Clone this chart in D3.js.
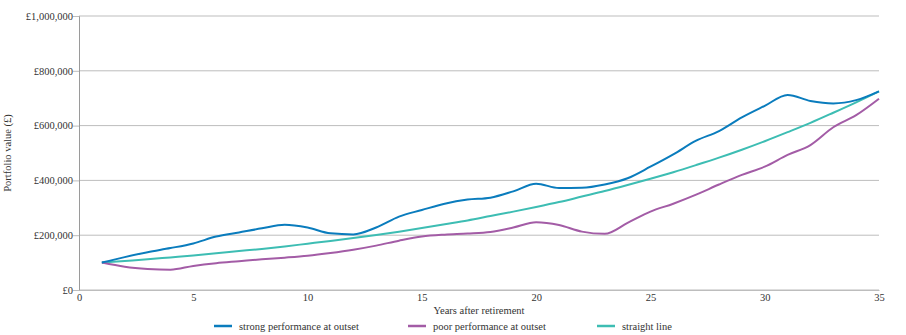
<!DOCTYPE html>
<html>
<head>
<meta charset="utf-8">
<script src="https://cdn.jsdelivr.net/npm/d3@7"></script>
<style>
  body { margin: 0; background: #fff; }
  svg text { font-family: "Liberation Serif", "DejaVu Serif", serif; fill: #333; }
</style>
</head>
<body>
<div id="chart"></div>
<script>
// years after retirement
const years = d3.range(1, 36);

// portfolio value, £ thousands
const strong = [100, 120, 138, 153, 170, 195, 210, 225, 238, 228,
                207, 203, 228, 268, 292, 315, 330, 337, 360, 388,
                372, 373, 385, 408, 450, 495, 545, 580, 630, 672,
                712, 690, 681, 693, 725];
const poor = [100, 85, 77, 74, 88, 98, 105, 112, 118, 125,
              135, 147, 162, 180, 195, 202, 206, 212, 228, 247,
              237, 213, 205, 245, 286, 315, 348, 385, 420, 450,
              493, 529, 594, 638, 698];
const straight = [100, 106, 112, 119, 126, 134, 142, 150, 159, 169,
                  179, 190, 201, 213, 226, 240, 254, 270, 286, 303,
                  321, 341, 361, 383, 406, 430, 456, 483, 512, 543,
                  576, 610, 647, 685, 725];

const xTicks = [0, 5, 10, 15, 20, 25, 30, 35];
const yTicks = [0, 200000, 400000, 600000, 800000, 1000000];

const series = [
  {name: 'strong performance at outset', values: strong, color: '#0a7cbd'},
  {name: 'poor performance at outset', values: poor, color: '#a35ca6'},
  {name: 'straight line', values: straight, color: '#3dbdb3'}
];

const width = 906, height = 335;
const margin = {top: 16, right: 27, bottom: 45, left: 79};

const svg = d3.select('#chart').append('svg')
    .attr('width', width)
    .attr('height', height);

const x = d3.scaleLinear().domain([0, 35]).range([margin.left, width - margin.right]);
const y = d3.scaleLinear().domain([0, 1000000]).range([height - margin.bottom, margin.top]);

// gridlines
svg.append('g')
    .selectAll('line')
    .data(yTicks)
    .enter().append('line')
    .attr('x1', x(0))
    .attr('x2', x(35))
    .attr('y1', d => y(d))
    .attr('y2', d => y(d))
    .attr('stroke', '#bdbdbd')
    .attr('stroke-width', 1);

// y axis
const yAxis = svg.append('g')
    .attr('transform', `translate(${x(0)},0)`)
    .call(d3.axisLeft(y).tickValues(yTicks).tickSize(6).tickPadding(0)
        .tickFormat(d => '£' + d3.format(',')(d)));
yAxis.select('.domain').attr('stroke', '#9a9a9a');
yAxis.selectAll('.tick line').attr('stroke', '#bdbdbd');
yAxis.selectAll('text').attr('font-size', 10.5).attr('fill', '#333');

// x axis
const xAxis = svg.append('g')
    .attr('transform', `translate(0,${y(0)})`)
    .call(d3.axisBottom(x).tickValues(xTicks).tickSize(0).tickPadding(4));
xAxis.select('.domain').attr('stroke', '#bdbdbd');
xAxis.selectAll('text').attr('font-size', 10.5).attr('fill', '#333');

// axis titles
svg.append('text')
    .attr('x', (x(0) + x(35)) / 2)
    .attr('y', 314)
    .attr('text-anchor', 'middle')
    .attr('font-size', 10.5)
    .text('Years after retirement');

svg.append('text')
    .attr('transform', `translate(11,${(y(0) + y(1000000)) / 2}) rotate(-90)`)
    .attr('text-anchor', 'middle')
    .attr('font-size', 10.5)
    .text('Portfolio value (£)');

// lines
const line = d3.line()
    .x((d, i) => x(years[i]))
    .y(d => y(d * 1000))
    .curve(d3.curveMonotoneX);

svg.append('g')
    .selectAll('path')
    .data(series.slice().reverse())
    .enter().append('path')
    .attr('d', d => line(d.values))
    .attr('fill', 'none')
    .attr('stroke', d => d.color)
    .attr('stroke-width', 2);

// legend
const legendX = [214, 408, 597];
const legend = svg.append('g')
    .selectAll('g')
    .data(series)
    .enter().append('g')
    .attr('transform', (d, i) => `translate(${legendX[i]},326)`);
legend.append('line')
    .attr('x1', 0).attr('x2', 18)
    .attr('stroke', d => d.color)
    .attr('stroke-width', 2.5);
legend.append('text')
    .attr('x', 25)
    .attr('y', 3.5)
    .attr('font-size', 10.5)
    .text(d => d.name);
</script>
</body>
</html>
